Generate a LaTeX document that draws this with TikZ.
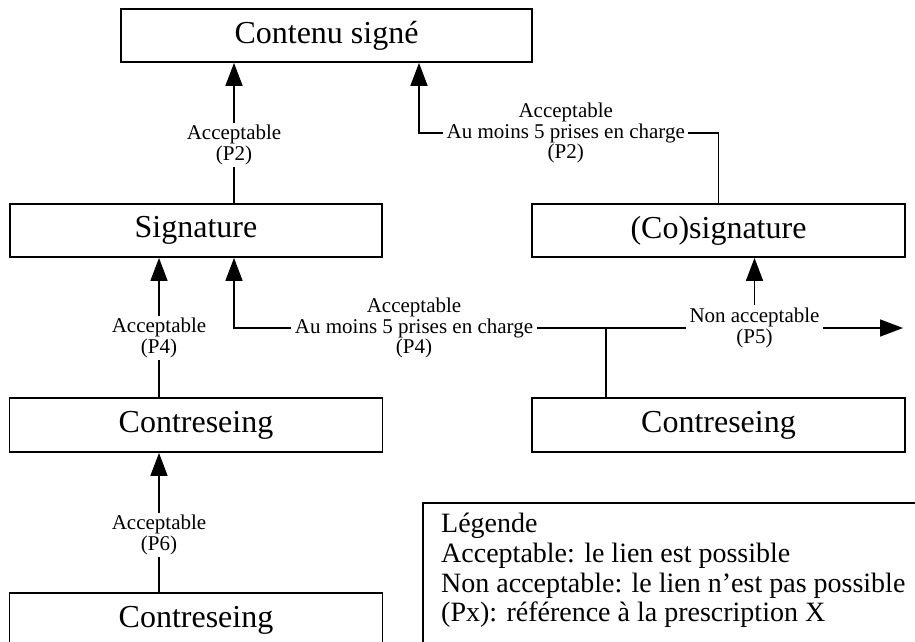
\documentclass[tikz,border=0pt]{standalone}
\usepackage{fontspec}
\setmainfont{Liberation Serif}
\usetikzlibrary{arrows.meta}
\begin{document}
\begin{tikzpicture}[x=1pt,y=-1pt,
  box/.style={draw,line width=1.8pt,inner sep=0pt,minimum height=53pt,font=\fontsize{32}{34}\selectfont},
  conn/.style={line width=1.6pt},
  arr/.style={conn,-{Triangle[length=23pt,width=17pt]}},
  lab/.style={fill=white,inner ysep=2.5pt,inner xsep=3.5pt,align=center,font=\fontsize{21}{20.5}\selectfont},
  leg/.style={anchor=base west,inner sep=0pt,font=\fontsize{28}{30}\selectfont}]
\clip (0,0) rectangle (915,641);
\useasboundingbox (0,0) rectangle (915,641);
% boxes
\node[box,minimum width=411pt] (cs) at (326.5,35.5) {Contenu signé};
\node[box,minimum width=372pt] (sig) at (196,230.5) {Signature};
\node[box,minimum width=373pt] (cosig) at (718.5,230.5) {(Co)signature};
\node[box,minimum width=373pt,minimum height=54pt] (ct1) at (196,425) {Contreseing};
\node[box,minimum width=373pt,minimum height=54pt] (ct2) at (718.5,425) {Contreseing};
\node[box,minimum width=373pt,minimum height=54pt] (ct3) at (196,620) {Contreseing};
% coordinates
\coordinate (xl) at (159,0);
\coordinate (xr) at (234,0);
\coordinate (tr1) at (718.5,133);
\coordinate (tr2) at (419,133);
\coordinate (j) at (606,328);
\coordinate (m2) at (234,328);
\coordinate (out) at (903,328);
% connectors
\draw[arr] (sig.north -| xr) -- node[lab,pos=0.415]{Acceptable\\(P2)} (cs.south -| xr);
\draw[arr] (cosig.north) -- (tr1) -- node[lab,pos=0.51]{Acceptable\\Au moins 5 prises en charge\\(P2)} (tr2) -- (tr2 |- cs.south);
\draw[arr] (ct2.north -| j) -- (j) -- node[lab,pos=0.516]{Acceptable\\Au moins 5 prises en charge\\(P4)} (m2) -- (m2 |- sig.south);
\draw[arr] (j) -- node[lab](na){Non acceptable\\(P5)} (out);
\draw[arr] (na.north) -- (na.north |- cosig.south);
\draw[arr] (ct1.north -| xl) -- node[lab,pos=0.425]{Acceptable\\(P4)} (sig.south -| xl);
\draw[arr] (ct3.north -| xl) -- node[lab,pos=0.41]{Acceptable\\(P6)} (ct1.south -| xl);
% legend
\draw[line width=1.2pt] (423,503) rectangle (960,700);
\node[leg] (leg1) at (441,532) {Légende};
\node[leg] (leg2) at (441,562) {Acceptable: le lien est possible};
\node[leg] (leg3) at (441,592) {Non acceptable: le lien n’est pas possible};
\node[leg] (leg4) at (441,621) {(Px): référence à la prescription X};
\end{tikzpicture}
\end{document}
